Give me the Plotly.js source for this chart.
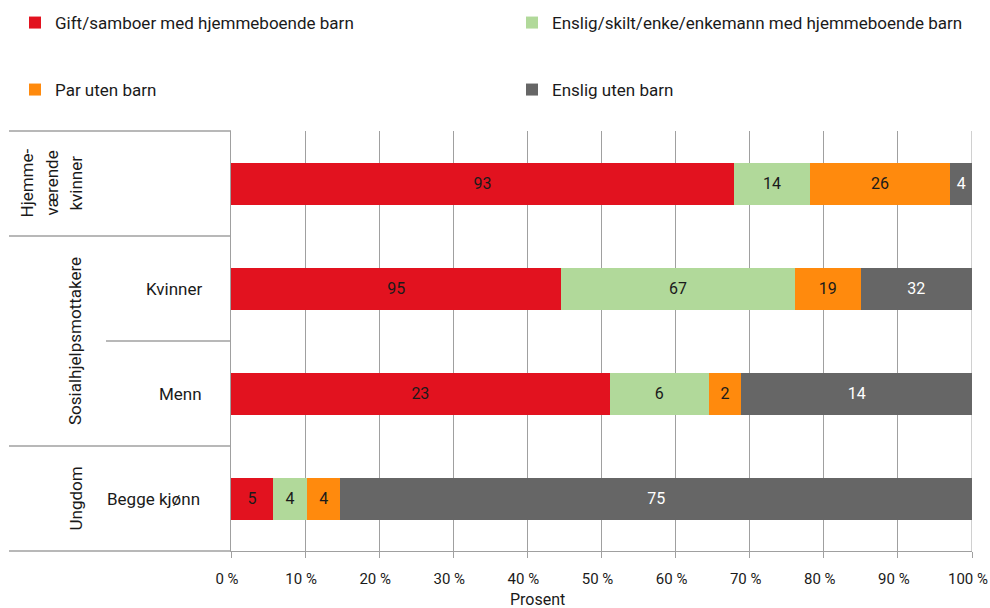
<!DOCTYPE html>
<html>
<head>
<meta charset="utf-8">
<script src="https://cdn.plot.ly/plotly-3.0.1.min.js"></script>
<style>html,body{margin:0;padding:0;background:#fff;}#chart{width:990px;height:608px;}</style>
</head>
<body>
<div id="chart"></div>
<script>
// Categories (top to bottom)
const categories = ["Hjemmeværende kvinner", "Kvinner", "Menn", "Begge kjønn"];
const groupLabels = ["Hjemme-", "værende", "kvinner"];
const seriesNames = [
  "Gift/samboer med hjemmeboende barn",
  "Enslig/skilt/enke/enkemann med hjemmeboende barn",
  "Par uten barn",
  "Enslig uten barn"
];
// Counts (shown as labels); bars normalized to percent
const giftSamboer = [93, 95, 23, 5];
const ensligMedBarn = [14, 67, 6, 4];
const parUtenBarn = [26, 19, 2, 4];
const ensligUtenBarn = [4, 32, 14, 75];
const colors = ["#e2121f", "#b1d99a", "#ff8a0d", "#666666"];
const textColors = ["#1a1a1a", "#1a1a1a", "#1a1a1a", "#ffffff"];
const xTickVals = [0,10,20,30,40,50,60,70,80,90,100];

const FONT = "Roboto, 'Liberation Sans', sans-serif";
const allSeries = [giftSamboer, ensligMedBarn, parUtenBarn, ensligUtenBarn];

const traces = allSeries.map((vals, i) => {
  const t = {
    type: "bar",
    orientation: "h",
    name: seriesNames[i],
    y: categories,
    x: vals,
    text: vals.map(String),
    textposition: "inside",
    insidetextanchor: "middle",
    constraintext: "none",
    textfont: {family: FONT, size: 16, color: textColors[i]},
    marker: {color: colors[i], line: {width: 0}},
    legend: i < 2 ? "legend" : "legend2",
    hoverinfo: "name+text"
  };
  if (i % 2 === 0) t.legendwidth = 452;
  return t;
});

const L = 231, R = 972, T = 131, B = 551;
const px = v => (v - L) / (R - L);
const py = v => (B - v) / (B - T);
const lineColor = "#a0a0a0";
const labelFont = {family: FONT, size: 17, color: "#1a1a1a"};

const legendCommon = {
  orientation: "h",
  xanchor: "left",
  yanchor: "middle",
  x: px(15),
  font: {family: FONT, size: 17, color: "#1a1a1a"},
  bgcolor: "rgba(0,0,0,0)",
  traceorder: "normal"
};

const annotations = [
  {text: "Sosialhjelpsmottakere", xref: "paper", yref: "paper", x: px(75), y: 0.5,
   textangle: -90, showarrow: false, xanchor: "center", yanchor: "middle", font: labelFont},
  {text: "Ungdom", xref: "paper", yref: "y", x: px(75), y: categories[3],
   textangle: -90, showarrow: false, xanchor: "center", yanchor: "middle", font: labelFont},
  {text: categories[1], xref: "paper", yref: "y", x: px(204), y: categories[1],
   showarrow: false, xanchor: "right", yanchor: "middle", font: labelFont},
  {text: categories[2], xref: "paper", yref: "y", x: px(204), y: categories[2],
   showarrow: false, xanchor: "right", yanchor: "middle", font: labelFont},
  {text: categories[3], xref: "paper", yref: "y", x: px(202), y: categories[3],
   showarrow: false, xanchor: "right", yanchor: "middle", font: labelFont},
  {text: "Prosent", xref: "paper", yref: "paper", x: px(537), y: py(599),
   showarrow: false, xanchor: "center", yanchor: "middle", font: {family: FONT, size: 16, color: "#1a1a1a"}}
];
const groupX = [26, 51, 75];
groupLabels.forEach((g, i) => annotations.push({
  text: g, xref: "paper", yref: "y", x: px(groupX[i]), y: categories[0],
  textangle: -90, showarrow: false, xanchor: "center", yanchor: "middle", font: labelFont
}));

const layout = {
  width: 990,
  height: 608,
  margin: {l: L, r: 990 - R, t: T, b: 608 - B, autoexpand: false},
  paper_bgcolor: "#ffffff",
  plot_bgcolor: "#ffffff",
  font: {family: FONT, size: 15, color: "#1a1a1a"},
  barmode: "stack",
  barnorm: "percent",
  bargap: 0.6,
  showlegend: true,
  legend: Object.assign({}, legendCommon, {y: py(23)}),
  legend2: Object.assign({}, legendCommon, {y: py(90)}),
  xaxis: {
    range: [0, 100],
    tickvals: xTickVals,
    ticktext: xTickVals.map(v => v + " %"),
    showgrid: true,
    gridcolor: lineColor,
    gridwidth: 1,
    zeroline: false,
    showline: true,
    linecolor: lineColor,
    linewidth: 1,
    ticks: "outside",
    ticklen: 6,
    tickcolor: lineColor,
    ticklabelstandoff: 8,
    ticklabelshift: -4,
    ticklabeloverflow: "allow",
    tickfont: {family: FONT, size: 15, color: "#1a1a1a"},
    automargin: false,
    fixedrange: true
  },
  yaxis: {
    categoryorder: "array",
    categoryarray: categories,
    autorange: "reversed",
    showticklabels: false,
    showgrid: false,
    zeroline: false,
    showline: true,
    linecolor: lineColor,
    linewidth: 1,
    ticks: "",
    automargin: false,
    fixedrange: true
  },
  annotations: annotations,
  shapes: [
    {type: "line", xref: "paper", yref: "paper", x0: px(9), x1: 0, y0: 1, y1: 1, line: {color: lineColor, width: 1.5}},
    {type: "line", xref: "paper", yref: "paper", x0: px(9), x1: 0, y0: 0.75, y1: 0.75, line: {color: lineColor, width: 1.5}},
    {type: "line", xref: "paper", yref: "paper", x0: px(106), x1: 0, y0: 0.5, y1: 0.5, line: {color: lineColor, width: 1.5}},
    {type: "line", xref: "paper", yref: "paper", x0: px(9), x1: 0, y0: 0.25, y1: 0.25, line: {color: lineColor, width: 1.5}},
    {type: "line", xref: "paper", yref: "paper", x0: px(9), x1: 0, y0: 0, y1: 0, line: {color: lineColor, width: 1.5}},
    {type: "line", xref: "x", yref: "paper", x0: 100, x1: 100, y0: 0, y1: 1, layer: "below", line: {color: lineColor, width: 1}}
  ]
};

Plotly.newPlot("chart", traces, layout, {displayModeBar: false, staticPlot: true});
</script>
</body>
</html>
